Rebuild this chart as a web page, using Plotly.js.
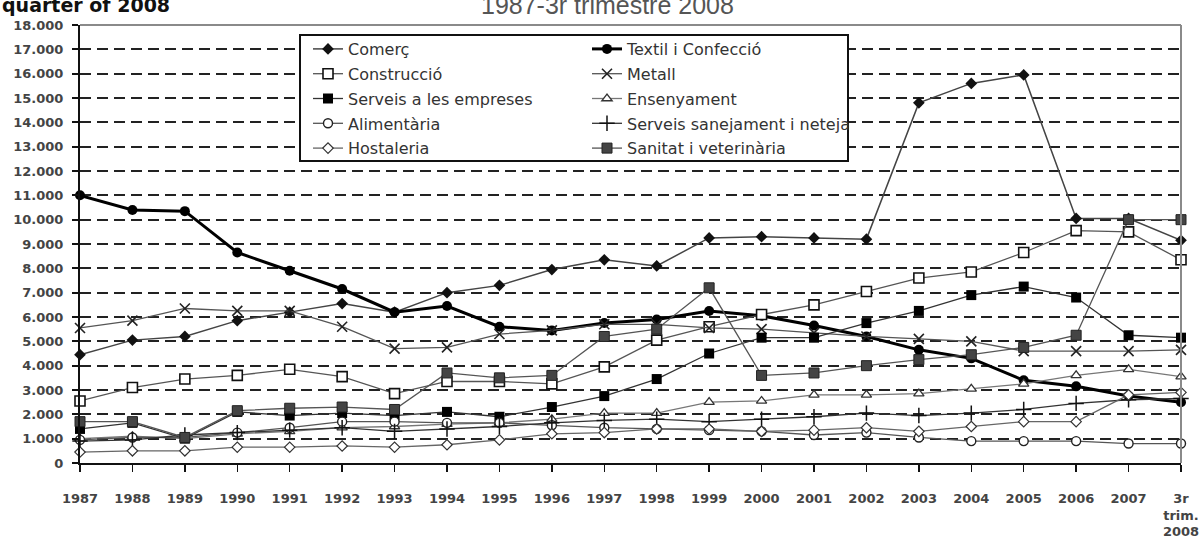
<!DOCTYPE html>
<html>
<head>
<meta charset="utf-8">
<script src="https://cdn.plot.ly/plotly-3.0.1.min.js"></script>
<style>html,body{margin:0;padding:0;background:#fff;}#chart{width:1203px;height:537px;}</style>
</head>
<body>
<div id="chart"></div>
<script>
var categories = ['1987','1988','1989','1990','1991','1992','1993','1994','1995','1996','1997','1998','1999','2000','2001','2002','2003','2004','2005','2006','2007','3r<br>trim.<br>2008'];

var comerc      = [4450, 5050, 5200, 5850, 6200, 6550, 6200, 7000, 7300, 7950, 8350, 8100, 9250, 9300, 9250, 9200, 14800, 15600, 15950, 10050, 10050, 9150];
var textil      = [11000, 10400, 10350, 8650, 7900, 7150, 6200, 6450, 5600, 5450, 5750, 5900, 6250, 6050, 5650, 5200, 4650, 4300, 3400, 3150, 2750, 2500];
var construccio = [2550, 3100, 3450, 3600, 3850, 3550, 2850, 3350, 3350, 3250, 3950, 5050, 5600, 6100, 6500, 7050, 7600, 7850, 8650, 9550, 9500, 8350];
var metall      = [5550, 5850, 6350, 6250, 6250, 5600, 4700, 4750, 5300, 5450, 5700, 5700, 5550, 5500, 5350, 5200, 5100, 5000, 4600, 4600, 4600, 4650];
var serveis     = [1400, 1650, 1000, 2100, 1950, 2050, 1950, 2100, 1900, 2300, 2750, 3450, 4500, 5150, 5150, 5750, 6250, 6900, 7250, 6800, 5250, 5150];
var ensenyament = [1000, 1100, 1000, 1200, 1300, 1450, 1500, 1600, 1650, 1800, 2050, 2050, 2500, 2550, 2800, 2800, 2850, 3050, 3250, 3600, 3850, 3550];
var alimentaria = [950, 1050, 1050, 1250, 1450, 1700, 1700, 1650, 1650, 1550, 1450, 1400, 1350, 1300, 1150, 1250, 1050, 900, 900, 900, 800, 800];
var sanejament  = [900, 950, 1150, 1250, 1350, 1450, 1300, 1400, 1500, 1650, 1750, 1800, 1700, 1800, 1900, 2050, 1950, 2050, 2200, 2450, 2600, 2650];
var hostaleria  = [450, 500, 500, 650, 650, 700, 650, 750, 950, 1200, 1250, 1400, 1400, 1300, 1350, 1450, 1300, 1500, 1700, 1700, 2800, 2900];
var sanitat     = [1700, 1700, 1050, 2150, 2250, 2300, 2200, 3700, 3500, 3600, 5200, 5500, 7200, 3600, 3700, 4000, 4250, 4450, 4750, 5250, 10000, 10000];

var seriesNames = ['Comerç','Textil i Confecció','Construcció','Metall','Serveis a les empreses','Ensenyament','Alimentària','Serveis sanejament i neteja','Hostaleria','Sanitat i veterinària'];
var topLeftText = 'quarter of 2008';
var titleText = '1987-3r trimestre 2008';

function tr(name, y, legend, lineColor, lineWidth, marker) {
  return {
    type: 'scatter', mode: 'lines+markers', name: name, x: categories, y: y,
    legend: legend, legendgroup: name, cliponaxis: false,
    line: {color: lineColor, width: lineWidth},
    marker: marker
  };
}

var data = [
  tr(seriesNames[0], comerc, 'legend', '#444', 1.5, {symbol: 'diamond', size: 9, color: '#111'}),
  tr(seriesNames[1], textil, 'legend2', '#000', 3, {symbol: 'circle', size: 10, color: '#000'}),
  tr(seriesNames[2], construccio, 'legend', '#555', 1.3, {symbol: 'square', size: 10, color: '#fff', line: {color: '#111', width: 1.6}}),
  tr(seriesNames[3], metall, 'legend2', '#555', 1.3, {symbol: 'x-thin-open', size: 10, color: '#222', line: {color: '#222', width: 1.6}}),
  tr(seriesNames[4], serveis, 'legend', '#333', 1.3, {symbol: 'square', size: 10, color: '#000'}),
  tr(seriesNames[5], ensenyament, 'legend2', '#777', 1.3, {symbol: 'triangle-up', size: 9, color: '#fff', line: {color: '#333', width: 1.3}}),
  tr(seriesNames[6], alimentaria, 'legend', '#555', 1.3, {symbol: 'circle', size: 9, color: '#fff', line: {color: '#222', width: 1.4}}),
  tr(seriesNames[7], sanejament, 'legend2', '#333', 1.3, {symbol: 'cross-thin-open', size: 11, color: '#111', line: {color: '#111', width: 1.5}}),
  tr(seriesNames[8], hostaleria, 'legend', '#666', 1.3, {symbol: 'diamond', size: 8, color: '#fff', line: {color: '#333', width: 1.2}}),
  tr(seriesNames[9], sanitat, 'legend2', '#555', 1.3, {symbol: 'square', size: 10, color: '#444', line: {color: '#222', width: 1}})
];

var L = 80, T = 25, PW = 1101, PH = 438;
function px(x) { return (x - L) / PW; }
function py(y) { return 1 - (y - T) / PH; }

var legendFont = {family: 'DejaVu Sans', size: 16, color: '#333'};
var tickFont = {family: 'DejaVu Sans', size: 13, color: '#444', weight: 'bold'};

var layout = {
  width: 1203, height: 537,
  margin: {l: 80, r: 22, t: 25, b: 74},
  paper_bgcolor: '#fff', plot_bgcolor: '#fff',
  separators: ',.',
  font: {family: 'DejaVu Sans', size: 14, color: '#333'},
  showlegend: true,
  legend: {x: px(308), y: py(32), xanchor: 'left', yanchor: 'top', bgcolor: 'rgba(0,0,0,0)', borderwidth: 0, font: legendFont, tracegroupgap: 1},
  legend2: {x: px(587), y: py(32), xanchor: 'left', yanchor: 'top', bgcolor: 'rgba(0,0,0,0)', borderwidth: 0, font: legendFont, tracegroupgap: 1},
  xaxis: {
    type: 'category', range: [0, 21], showline: true, linecolor: '#111', linewidth: 2,
    ticks: 'outside', ticklen: 7, tickwidth: 1.5, tickcolor: '#111',
    showgrid: false, zeroline: false, ticklabelstandoff: 15,
    tickfont: tickFont, fixedrange: true
  },
  yaxis: {
    range: [0, 18000], dtick: 1000, tickformat: ',d',
    showline: true, linecolor: '#111', linewidth: 2,
    ticks: 'outside', ticklen: 6, tickwidth: 2, tickcolor: '#111',
    showgrid: true, gridcolor: '#222', gridwidth: 2, griddash: '11px,6px',
    zeroline: false, ticklabelstandoff: 6,
    tickfont: tickFont, fixedrange: true
  },
  shapes: [
    {type: 'line', xref: 'paper', yref: 'paper', x0: 0, x1: 1, y0: 1, y1: 1, line: {color: '#8a8a8a', width: 2}, layer: 'above'},
    {type: 'line', xref: 'paper', yref: 'paper', x0: 1, x1: 1, y0: 0, y1: 1, line: {color: '#8a8a8a', width: 2}, layer: 'above'},
    {type: 'rect', xref: 'paper', yref: 'paper', x0: px(300), x1: px(848), y0: py(161), y1: py(35), fillcolor: '#fff', line: {color: '#111', width: 2}, layer: 'above'}
  ],
  annotations: [
    {xref: 'paper', yref: 'paper', x: px(0), y: py(17.5), xanchor: 'left', yanchor: 'bottom', showarrow: false,
     text: topLeftText, font: {family: 'DejaVu Sans', size: 19, color: '#111', weight: 'bold'}},
    {xref: 'paper', yref: 'paper', x: px(607), y: py(21), xanchor: 'center', yanchor: 'bottom', showarrow: false,
     text: titleText, font: {family: 'Liberation Sans', size: 25, color: '#555'}}
  ]
};

Plotly.newPlot('chart', data, layout, {displayModeBar: false, staticPlot: true});
</script>
</body>
</html>
